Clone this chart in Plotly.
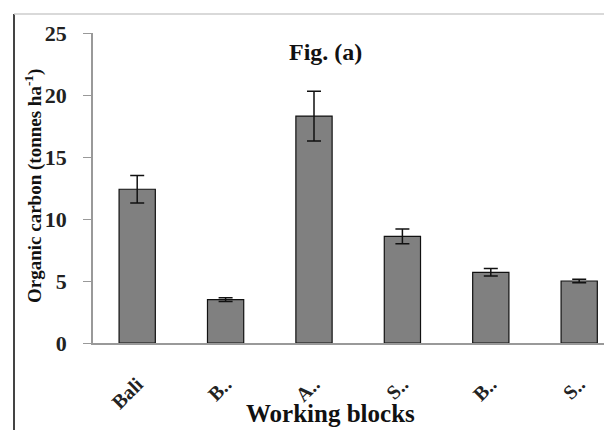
import plotly.graph_objects as go

categories = ["Bali", "B..", "A..", "S..", "B..", "S.."]
values = [12.4, 3.5, 18.3, 8.6, 5.7, 5.0]
errors = [1.1, 0.15, 2.0, 0.6, 0.3, 0.15]
y_ticks = [0, 5, 10, 15, 20, 25]

OFF = 8  # page offset of the plot div
W, H = 612 - OFF, 430 - OFF
L = 93 - OFF
T = 33 - OFF
B = H - (343 - OFF)
pw = W - L
ph = H - T - B

def px(x):
    return (x - OFF - L) / pw

def py(y):
    return (H - B - (y - OFF)) / ph

font = "Liberation Serif, Times New Roman, serif"
xs = list(range(len(categories)))

fig = go.Figure()
fig.add_trace(go.Bar(
    x=xs, y=values, width=0.41,
    marker=dict(color="#808080", line=dict(color="#111111", width=1.2)),
    error_y=dict(type="data", array=errors, visible=True, color="#111111", thickness=1.5, width=7),
))

fig.update_layout(
    width=W, height=H, autosize=False,
    margin=dict(l=L, r=0, t=T, b=B, autoexpand=False),
    paper_bgcolor="white", plot_bgcolor="white",
    showlegend=False,
    xaxis=dict(
        range=[-0.5, -0.5 + pw / 88.4],
        tickvals=xs, ticktext=categories, tickangle=-45,
        tickfont=dict(family=font, size=20, color="#222222", weight="bold"),
        showline=True, linecolor="#999999", linewidth=1.5,
        showgrid=False, zeroline=False, ticks="",
        ticklabelstandoff=20,
    ),
    yaxis=dict(
        range=[0, 25], tickvals=y_ticks,
        tickfont=dict(family=font, size=22, color="#222222", weight="bold"),
        showline=True, linecolor="#999999", linewidth=1.5,
        ticks="outside", ticklen=8, tickcolor="#999999",
        ticklabelstandoff=12,
        showgrid=False, zeroline=False,
    ),
    annotations=[
        dict(text="Fig. (a)", x=px(325), y=py(52), xref="paper", yref="paper",
             xanchor="center", yanchor="middle",
             showarrow=False, font=dict(family=font, size=24, color="#111111", weight="bold")),
        dict(text="Organic carbon (tonnes ha<sup>-1</sup>)", x=px(33), y=py(186),
             xref="paper", yref="paper", textangle=-90, showarrow=False,
             xanchor="center", yanchor="middle",
             font=dict(family=font, size=19, color="#111111", weight="bold")),
        dict(text="Working blocks", x=px(330), y=py(413), xref="paper", yref="paper",
             xanchor="center", yanchor="middle",
             showarrow=False, font=dict(family=font, size=25, color="#111111", weight="bold")),
    ],
    shapes=[
        dict(type="line", xref="paper", yref="paper", x0=px(14), x1=px(14), y0=py(14), y1=py(430),
             line=dict(color="#444444", width=2)),
        dict(type="line", xref="paper", yref="paper", x0=px(14), x1=px(612), y0=py(14), y1=py(14),
             line=dict(color="#cccccc", width=1.5)),
    ],
)

fig.write_html("out.html")
